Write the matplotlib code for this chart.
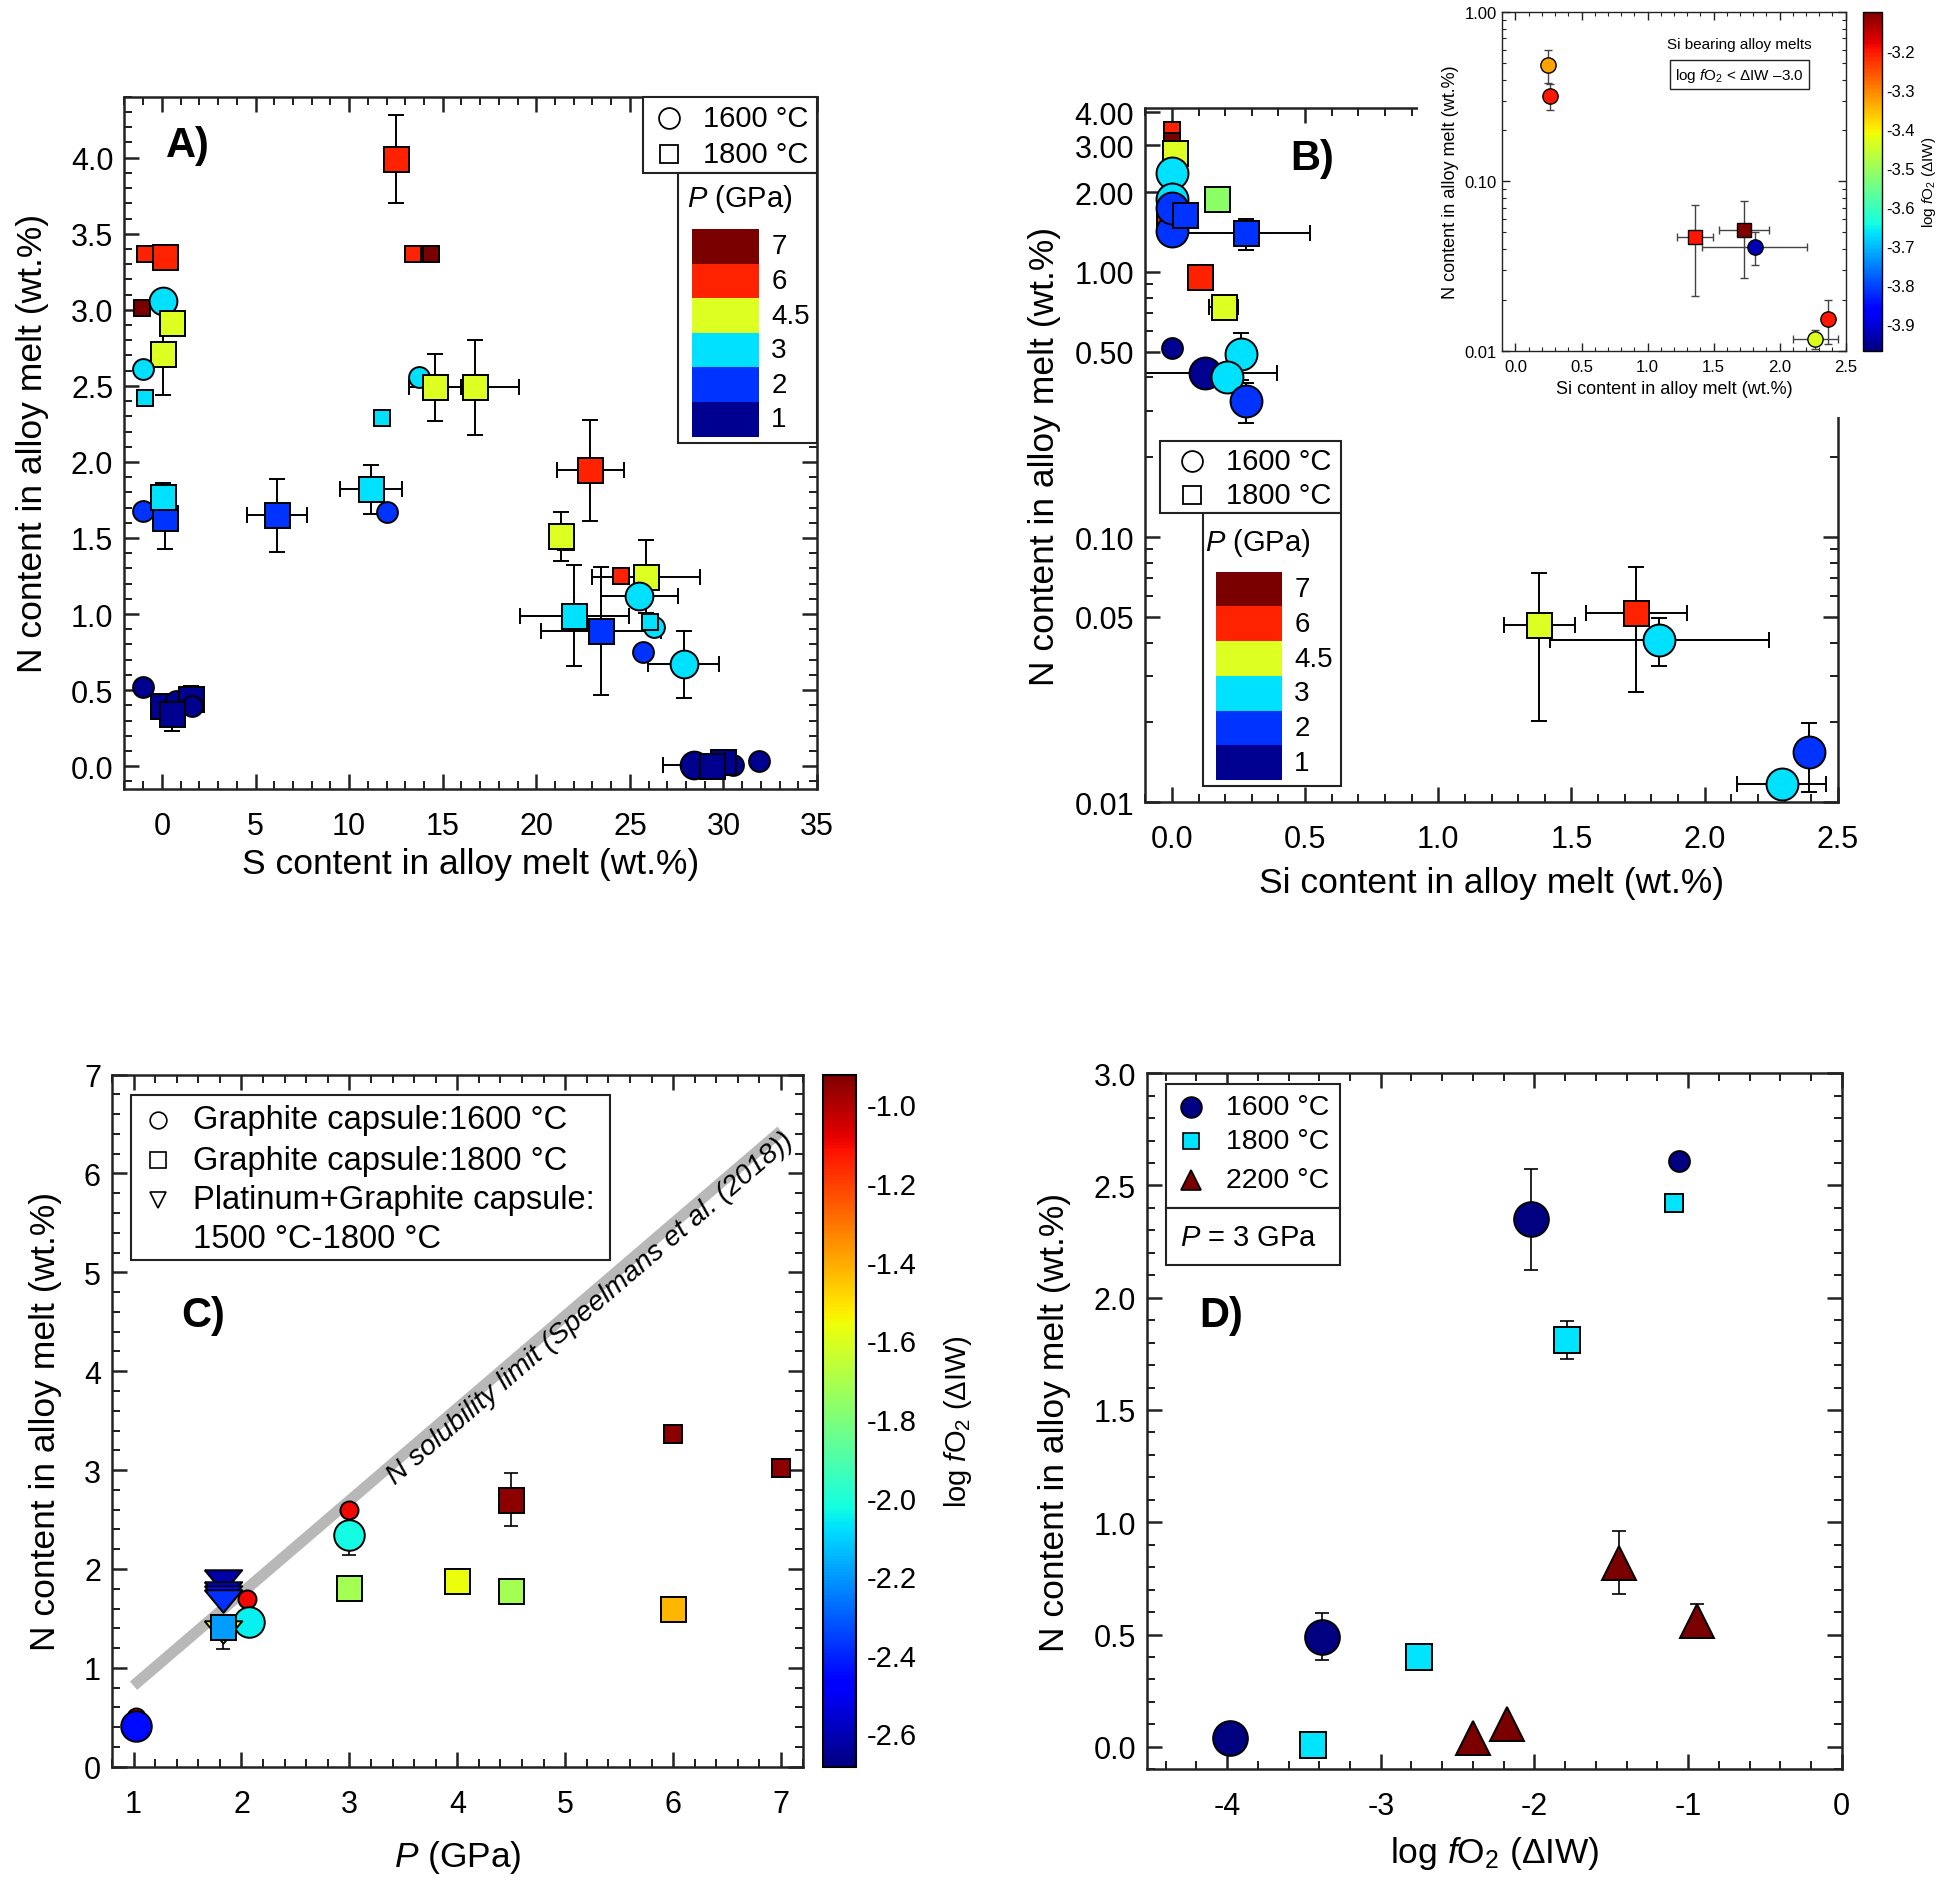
import matplotlib
matplotlib.use('Agg')
import matplotlib.pyplot as plt
import numpy as np
from matplotlib.patches import Rectangle
from matplotlib.ticker import MultipleLocator, FixedLocator, NullFormatter, LogLocator, FormatStrFormatter
from matplotlib.colors import Normalize
from matplotlib.cm import ScalarMappable

plt.rcParams['font.family'] = ['Liberation Sans', 'DejaVu Sans']
plt.rcParams['mathtext.fontset'] = 'custom'
plt.rcParams['mathtext.rm'] = 'Liberation Sans'
plt.rcParams['mathtext.it'] = 'Liberation Sans:italic'
plt.rcParams['mathtext.bf'] = 'Liberation Sans:bold'
plt.rcParams['axes.unicode_minus'] = False

# ---------------- data ----------------
# panel A : N vs S content (P in GPa, T in C, big = large symbol)
a_S = [-0.93, 0.14, -1.05, 0.08, 0.56, 0.08, -1.0, -0.93, 12.5, 13.4, 14.35, 13.76, 14.6, 16.7, 11.78,
       11.16, 12.0, 6.16, -1.0, 0.14, 0.08, 22.88, 21.6, 21.33, 24.5, 25.85, 25.5, 22.03, 23.45, 26.3,
       26.1, 25.7, 27.88, -1.01, 0.05, 0.75, 1.55, 1.6, 0.53, 31.9, 30.5, 30.0, 28.45, 29.4]
a_N = [3.37, 3.35, 3.01, 3.06, 2.91, 2.71, 2.61, 2.42, 3.99, 3.37, 3.37, 2.56, 2.49, 2.49, 2.29,
       1.82, 1.67, 1.65, 1.68, 1.63, 1.77, 1.945, 1.475, 1.51, 1.25, 1.245, 1.12, 0.99, 0.89, 0.915,
       0.95, 0.75, 0.67, 0.52, 0.395, 0.43, 0.44, 0.395, 0.34, 0.035, 0.005, 0.03, 0.01, 0.0]
a_Serr = [0, 0, 0, 0, 0, 0, 0, 0, 0, 0, 0, 0, 1.4, 2.4, 0,
          1.64, 0, 1.6, 0, 0, 0, 1.78, 0, 0, 0, 2.9, 2.06, 2.9, 3.2, 0,
          0, 0, 1.9, 0, 0, 0, 0, 0, 0, 0, 0, 0, 1.7, 0]
a_Nerr = [0, 0, 0, 0, 0, 0.27, 0, 0, 0.29, 0, 0, 0, 0.22, 0.31, 0,
          0.16, 0, 0.24, 0, 0.2, 0.09, 0.33, 0, 0.16, 0, 0.24, 0, 0.33, 0.42, 0,
          0, 0, 0.22, 0, 0, 0, 0.085, 0, 0.11, 0, 0, 0, 0, 0]
a_P = [6, 6, 7, 3, 4.5, 4.5, 3, 3, 6, 6, 7, 3, 4.5, 4.5, 3,
       3, 2, 2, 2, 2, 3, 6, 7, 4.5, 6, 4.5, 3, 3, 2, 3,
       3, 2, 3, 1, 1, 1, 1, 1, 1, 1, 1, 1, 1, 1]
a_T = [1800, 1800, 1800, 1600, 1800, 1800, 1600, 1800, 1800, 1800, 1800, 1600, 1800, 1800, 1800,
       1800, 1600, 1800, 1600, 1800, 1800, 1800, 1800, 1800, 1800, 1800, 1600, 1800, 1800, 1600,
       1800, 1600, 1600, 1600, 1800, 1600, 1800, 1600, 1800, 1600, 1600, 1800, 1600, 1800]
a_big = [0, 1, 0, 1, 1, 1, 0, 0, 1, 0, 0, 0, 1, 1, 0,
         1, 0, 1, 0, 1, 1, 1, 0, 1, 0, 1, 1, 1, 1, 0,
         0, 0, 1, 0, 1, 0, 1, 0, 1, 0, 0, 1, 1, 1]

# panel B : N vs Si content
b_Si = [0.0, 0.0, 0.01, 0.0, -0.01, 0.0, 0.0, 0.0, 0.05, 0.17, 0.28, 0.105, 0.195, 0.0, 0.26,
        0.126, 0.207, 0.28, 1.38, 1.744, 1.83, 2.39, 2.29]
b_N = [3.43, 3.12, 2.8, 2.36, 1.55, 1.43, 1.88, 1.75, 1.64, 1.88, 1.40, 0.96, 0.736, 0.517, 0.49,
       0.414, 0.40, 0.325, 0.0467, 0.0515, 0.041, 0.0154, 0.0117]
b_Sierr = [0, 0, 0, 0, 0, 0, 0, 0, 0, 0, 0.24, 0, 0.055, 0, 0,
           0.27, 0, 0, 0.133, 0.19, 0.41, 0, 0.167]
b_Nerr = [0, 0, 0, 0, 0, 0, 0, 0, 0, 0, 0.19, 0, 0, 0, 0.1,
          0, 0, 0.055, 0.0265, 0.0255, 0.0085, 0.0045, 0]
b_P = [6, 7, 4.5, 3, 6, 2, 3, 2, 2, 4, 2, 6, 4.5, 1, 3, 1, 3, 2, 4.5, 6, 3, 2, 3]
b_T = [1800, 1800, 1800, 1600, 1800, 1600, 1600, 1600, 1800, 1800, 1800, 1800, 1800, 1600, 1600,
       1600, 1600, 1600, 1800, 1800, 1600, 1600, 1600]
b_big = [0, 0, 1, 1, 1, 1, 1, 1, 1, 1, 1, 1, 1, 0, 1, 1, 1, 1, 1, 1, 1, 1, 1]

# inset of B : Si bearing alloy melts coloured by log fO2
i_Si = [0.245, 0.26, 1.36, 1.73, 1.81, 2.37, 2.27]
i_N = [0.49, 0.32, 0.047, 0.052, 0.041, 0.0155, 0.0118]
i_Sierr = [0, 0, 0.135, 0.19, 0.4, 0, 0.17]
i_Nerr = [0.11, 0.055, 0.026, 0.025, 0.009, 0.0045, 0.0015]
i_fO2 = [-3.33, -3.2, -3.2, -3.1, -3.93, -3.2, -3.43]
i_T = [1600, 1600, 1800, 1800, 1600, 1600, 1600]

# panel C : N vs P, coloured by log fO2
c_P = [1.02, 1.02, 2.05, 2.07, 3.0, 3.0, 3.0, 4.0, 4.5, 4.5, 6.0, 6.0, 7.0,
       1.83, 1.83, 1.83, 1.83, 1.83, 1.83]
c_N = [0.506, 0.41, 1.70, 1.46, 2.60, 2.34, 1.81, 1.88, 1.78, 2.70, 3.37, 1.60, 3.02,
       1.36, 1.88, 1.76, 1.72, 1.68, 1.41]
c_Nerr = [0, 0, 0, 0, 0, 0.2, 0, 0, 0, 0.27, 0, 0, 0,
          0.17, 0, 0, 0, 0, 0]
c_fO2 = [-1.1, -2.45, -1.1, -2.05, -1.1, -2.03, -1.72, -1.57, -1.72, -0.95, -0.95, -1.42, -0.95,
         -1.57, -2.62, -2.55, -2.45, -2.38, -2.19]
c_cap = ['G1600', 'G1600', 'G1600', 'G1600', 'G1600', 'G1600', 'G1800', 'G1800', 'G1800', 'G1800',
         'G1800', 'G1800', 'G1800', 'PtG', 'PtG', 'PtG', 'PtG', 'PtG', 'G1800']
c_big = [0, 1, 0, 1, 0, 1, 1, 1, 1, 1, 0, 1, 0, 1, 1, 1, 1, 1, 1]
c_lim_P = [1.0, 7.0]
c_lim_N = [0.82, 6.43]

# panel D : N vs log fO2 at 3 GPa
d_fO2 = [-3.98, -3.38, -2.02, -1.06, -3.44, -2.75, -1.79, -1.09, -2.40, -2.18, -1.45, -0.94]
d_N = [0.04, 0.49, 2.35, 2.61, 0.01, 0.40, 1.81, 2.42, 0.04, 0.10, 0.82, 0.56]
d_Nerr = [0, 0.105, 0.225, 0, 0, 0, 0.085, 0, 0, 0, 0.14, 0.075]
d_T = [1600, 1600, 1600, 1600, 1800, 1800, 1800, 1800, 2200, 2200, 2200, 2200]
d_big = [1, 1, 1, 0, 1, 1, 1, 0, 1, 1, 1, 1]

p_colors = {7: '#7a0000', 6: '#ff2200', 4.5: '#ddff22', 4: '#8cff66', 3: '#00e0ff', 2: '#0033ff', 1: '#000090'}
p_levels = [7, 6, 4.5, 3, 2, 1]
p_labels = ['7', '6', '4.5', '3', '2', '1']
t_marker = {1600: 'o', 1800: 's', 2200: '^'}
d_colors = {1600: '#000080', 1800: '#00e5ff', 2200: '#7a0000'}

INK = '#222222'
LBL = 25.5
tri_flat = [(-1, 0.6), (1, 0.6), (0, -0.6), (-1, 0.6)]


def style(ax, fs=22, lw=1.8, maj=11, mnr=6, pad=8, xpad=16):
    for s in ax.spines.values():
        s.set_linewidth(lw)
        s.set_color(INK)
    ax.tick_params(which='both', direction='in', top=True, right=True, width=lw, color=INK, labelsize=fs)
    ax.tick_params(which='major', length=maj, pad=pad)
    ax.tick_params(axis='x', which='major', pad=xpad)
    ax.tick_params(which='minor', length=mnr, width=lw * 0.8)


def draw_points(ax, xs, ys, xe, ye, cols, mks, sizes, elw=1.4, cap=6, mew=1.4, ecol='black'):
    for i in range(len(xs)):
        if xe[i] or ye[i]:
            ax.errorbar(xs[i], ys[i], xerr=xe[i] or None, yerr=ye[i] or None, fmt='none',
                        ecolor=ecol, elinewidth=elw, capsize=cap, capthick=elw, zorder=2)
    for i in range(len(xs)):
        ax.plot(xs[i], ys[i], ls='none', marker=mks[i], ms=sizes[i], mfc=cols[i], mec='black',
                mew=mew, zorder=3 + i * 0.001)


def p_key(ax, tbox, pbox, mk_x, txt_x, mk_y, title_xy, sw_x, sw_w, sw_y0, sw_h, lab_x, fs):
    ax.add_patch(Rectangle(tbox[:2], tbox[2], tbox[3], transform=ax.transAxes, fc='white', ec=INK,
                           lw=1.5, zorder=10, clip_on=False))
    ax.add_patch(Rectangle(pbox[:2], pbox[2], pbox[3], transform=ax.transAxes, fc='white', ec=INK,
                           lw=1.5, zorder=10, clip_on=False))
    for m, y, t, s in zip(['o', 's'], mk_y, ['1600 °C', '1800 °C'], [15, 13]):
        ax.plot([mk_x], [y], ls='none', marker=m, ms=s, mfc='white', mec='black', mew=1.3,
                transform=ax.transAxes, zorder=11, clip_on=False)
        ax.text(txt_x, y, t, transform=ax.transAxes, va='center', fontsize=fs, zorder=11)
    ax.text(title_xy[0], title_xy[1], '$P$ (GPa)', transform=ax.transAxes, ha='center', va='center',
            fontsize=fs, zorder=11)
    for k, (p, lab) in enumerate(zip(p_levels, p_labels)):
        y0 = sw_y0 + (len(p_levels) - 1 - k) * sw_h
        ax.add_patch(Rectangle((sw_x, y0), sw_w, sw_h, transform=ax.transAxes, fc=p_colors[p], ec='none',
                               zorder=11))
        ax.text(lab_x, y0 + sw_h / 2, lab, transform=ax.transAxes, va='center', fontsize=fs - 1, zorder=11)


fig = plt.figure(figsize=(19.51, 18.81), dpi=100)

# ---------------- A ----------------
axA = fig.add_axes([0.0638, 0.580, 0.355, 0.368])
sizeA = {('o', 1): 20, ('o', 0): 15, ('s', 1): 18, ('s', 0): 12}
mkA = [t_marker[t] for t in a_T]
draw_points(axA, a_S, a_N, a_Serr, a_Nerr, [p_colors[p] for p in a_P], mkA,
            [sizeA[(m, b)] for m, b in zip(mkA, a_big)])
axA.set_xlim(-2, 35)
axA.set_ylim(-0.15, 4.4)
axA.xaxis.set_major_locator(MultipleLocator(5))
axA.xaxis.set_minor_locator(MultipleLocator(1))
axA.yaxis.set_major_locator(MultipleLocator(0.5))
axA.yaxis.set_minor_locator(MultipleLocator(0.1))
axA.yaxis.set_major_formatter(FormatStrFormatter('%.1f'))
style(axA)
axA.set_xlabel('S content in alloy melt (wt.%)', fontsize=LBL, labelpad=4)
axA.set_ylabel('N content in alloy melt (wt.%)', fontsize=LBL, labelpad=16)
axA.text(0.06, 0.93, 'A)', transform=axA.transAxes, fontsize=30, fontweight='bold', va='center')
p_key(axA, (0.749, 0.890, 0.251, 0.110), (0.799, 0.50, 0.201, 0.39), 0.786, 0.835, (0.969, 0.917),
      (0.889, 0.854), 0.819, 0.097, 0.509, 0.05, 0.934, 21)

# ---------------- B ----------------
axB = fig.add_axes([0.587, 0.573, 0.355, 0.369], zorder=0)
sizeB = {('o', 1): 23, ('o', 0): 15, ('s', 1): 18, ('s', 0): 12}
mkB = [t_marker[t] for t in b_T]
draw_points(axB, b_Si, b_N, b_Sierr, b_Nerr, [p_colors[p] for p in b_P], mkB,
            [sizeB[(m, b)] for m, b in zip(mkB, b_big)])
axB.set_yscale('log')
axB.set_xlim(-0.1, 2.5)
axB.set_ylim(0.01, 4.15)
axB.xaxis.set_major_locator(MultipleLocator(0.5))
axB.xaxis.set_minor_locator(MultipleLocator(0.1))
axB.xaxis.set_major_formatter(FormatStrFormatter('%.1f'))
axB.yaxis.set_major_locator(FixedLocator([0.01, 0.05, 0.1, 0.5, 1, 2, 3, 4]))
axB.yaxis.set_major_formatter(FormatStrFormatter('%.2f'))
axB.yaxis.set_minor_locator(LogLocator(base=10, subs=np.arange(2, 10)))
axB.yaxis.set_minor_formatter(NullFormatter())
style(axB)
axB.set_xlabel('Si content in alloy melt (wt.%)', fontsize=LBL, labelpad=8)
axB.set_ylabel('N content in alloy melt (wt.%)', fontsize=LBL, labelpad=10)
axB.text(0.21, 0.928, 'B)', transform=axB.transAxes, fontsize=30, fontweight='bold', va='center')
p_key(axB, (0.0215, 0.4165, 0.2605, 0.1045), (0.084, 0.023, 0.198, 0.3935), 0.068, 0.117, (0.492, 0.442),
      (0.162, 0.375), 0.102, 0.095, 0.032, 0.05, 0.215, 21)

# white cover behind the inset
fig.add_artist(Rectangle((0.727, 0.778), 0.273, 0.222, transform=fig.transFigure, fc='white', ec='none',
                         zorder=2))

# ---------------- inset ----------------
norm_i = Normalize(vmin=-3.97, vmax=-3.1)
cmap = plt.get_cmap('jet')
axI = fig.add_axes([0.770, 0.813, 0.176, 0.180], zorder=3)
mkI = [t_marker[t] for t in i_T]
draw_points(axI, i_Si, i_N, i_Sierr, i_Nerr, [cmap(norm_i(v)) for v in i_fO2], mkI,
            [11 if m == 'o' else 9.5 for m in mkI], elw=1.0, cap=3, mew=1.0, ecol='#444444')
axI.set_yscale('log')
axI.set_xlim(-0.1, 2.5)
axI.set_ylim(0.01, 1.0)
axI.xaxis.set_major_locator(MultipleLocator(0.5))
axI.xaxis.set_minor_locator(MultipleLocator(0.1))
axI.xaxis.set_major_formatter(FormatStrFormatter('%.1f'))
axI.yaxis.set_major_locator(FixedLocator([0.01, 0.1, 1.0]))
axI.yaxis.set_major_formatter(FormatStrFormatter('%.2f'))
axI.yaxis.set_minor_locator(LogLocator(base=10, subs=np.arange(2, 10)))
axI.yaxis.set_minor_formatter(NullFormatter())
style(axI, fs=12, lw=1.0, maj=6, mnr=3, pad=4, xpad=6)
axI.set_xlabel('Si content in alloy melt (wt.%)', fontsize=13)
axI.set_ylabel('N content in alloy melt (wt.%)', fontsize=13)
axI.text(0.69, 0.905, 'Si bearing alloy melts', transform=axI.transAxes, ha='center', va='center', fontsize=11)
axI.text(0.69, 0.815, r'log $f$O$_2$ < ΔIW –3.0', transform=axI.transAxes, ha='center', va='center',
         fontsize=11, bbox=dict(boxstyle='square,pad=0.35', fc='white', ec=INK, lw=1.0))
caxI = fig.add_axes([0.955, 0.813, 0.0096, 0.180], zorder=3)
cbI = fig.colorbar(ScalarMappable(norm=norm_i, cmap=cmap), cax=caxI)
cbI.set_ticks(np.arange(-3.9, -3.15, 0.1))
cbI.ax.yaxis.set_major_formatter(FormatStrFormatter('%.1f'))
cbI.ax.tick_params(length=0, labelsize=12, pad=3)
cbI.outline.set_linewidth(1.0)
cbI.set_label(r'log $f$O$_2$ (ΔIW)', fontsize=11, labelpad=4)

# ---------------- C ----------------
norm_c = Normalize(vmin=-2.685, vmax=-0.924)
axC = fig.add_axes([0.0574, 0.0602, 0.354, 0.368])
axC.plot(c_lim_P, c_lim_N, color='#b8b8b8', lw=8, solid_capstyle='butt', zorder=1)
axC.text(3.42, 2.86, 'N solubility limit (Speelmans et al. (2018))', rotation=np.degrees(np.arctan(0.935)),
         transform_rotates_text=True, rotation_mode='anchor', ha='left', va='baseline', style='italic',
         fontsize=20.5, zorder=1)
mkC_map = {'G1600': 'o', 'G1800': 's', 'PtG': tri_flat}
sizeC = {('G1600', 1): 22, ('G1600', 0): 13, ('G1800', 1): 18, ('G1800', 0): 13, ('PtG', 1): 27}
draw_points(axC, c_P, c_N, [0] * len(c_P), c_Nerr, [cmap(norm_c(v)) for v in c_fO2],
            [mkC_map[c] for c in c_cap], [sizeC[(c, b)] for c, b in zip(c_cap, c_big)], elw=1.2, cap=5)
axC.set_xlim(0.8, 7.2)
axC.set_ylim(0, 7)
axC.xaxis.set_major_locator(MultipleLocator(1))
axC.xaxis.set_minor_locator(MultipleLocator(0.2))
axC.yaxis.set_major_locator(MultipleLocator(1))
axC.yaxis.set_minor_locator(MultipleLocator(0.2))
style(axC)
axC.set_xlabel('$P$ (GPa)', fontsize=LBL, labelpad=14)
axC.set_ylabel('N content in alloy melt (wt.%)', fontsize=LBL, labelpad=16)
axC.text(0.10, 0.653, 'C)', transform=axC.transAxes, fontsize=30, fontweight='bold', va='center')
axC.add_patch(Rectangle((0.027, 0.7325), 0.694, 0.2385, transform=axC.transAxes, fc='white', ec=INK, lw=1.5,
                        zorder=10))
for m, y, t, s in zip(['o', 's', 'v'], [0.935, 0.876, 0.819],
                      ['Graphite capsule:1600 °C', 'Graphite capsule:1800 °C', 'Platinum+Graphite capsule:'],
                      [12, 11, 12]):
    axC.plot([0.067], [y], ls='none', marker=m, ms=s, mfc='white', mec='black', mew=1.2,
             transform=axC.transAxes, zorder=11)
    axC.text(0.117, y, t, transform=axC.transAxes, va='center', fontsize=23.5, zorder=11)
axC.text(0.117, 0.763, '1500 °C-1800 °C', transform=axC.transAxes, va='center', fontsize=23.5, zorder=11)
caxC = fig.add_axes([0.422, 0.0602, 0.0166, 0.368])
cbC = fig.colorbar(ScalarMappable(norm=norm_c, cmap=cmap), cax=caxC)
cbC.set_ticks(np.arange(-2.6, -0.95, 0.2))
cbC.ax.yaxis.set_major_formatter(FormatStrFormatter('%.1f'))
cbC.ax.tick_params(length=0, labelsize=21, pad=8)
cbC.outline.set_linewidth(1.5)
cbC.set_label(r'log $f$O$_2$ (ΔIW)', fontsize=21, labelpad=18)

# ---------------- D ----------------
axD = fig.add_axes([0.588, 0.0589, 0.356, 0.370])
sizeD = {('o', 1): 25, ('o', 0): 15, ('s', 1): 19, ('s', 0): 13, ('^', 1): 25}
mkD = [t_marker[t] for t in d_T]
draw_points(axD, d_fO2, d_N, [0] * len(d_N), d_Nerr, [d_colors[t] for t in d_T], mkD,
            [sizeD[(m, b)] for m, b in zip(mkD, d_big)], elw=1.2, cap=5)
axD.set_xlim(-4.52, 0)
axD.set_ylim(-0.1, 3.0)
axD.xaxis.set_major_locator(MultipleLocator(1))
axD.xaxis.set_minor_locator(MultipleLocator(0.2))
axD.xaxis.set_major_formatter(FormatStrFormatter('%d'))
axD.yaxis.set_major_locator(MultipleLocator(0.5))
axD.yaxis.set_minor_locator(MultipleLocator(0.1))
axD.yaxis.set_major_formatter(FormatStrFormatter('%.1f'))
style(axD)
axD.set_xlabel(r'log $f$O$_2$ (ΔIW)', fontsize=LBL, labelpad=9)
axD.set_ylabel('N content in alloy melt (wt.%)', fontsize=LBL, labelpad=16)
axD.text(0.075, 0.653, 'D)', transform=axD.transAxes, fontsize=30, fontweight='bold', va='center')
axD.add_patch(Rectangle((0.027, 0.807), 0.251, 0.177, transform=axD.transAxes, fc='white', ec=INK, lw=1.5,
                        zorder=10))
axD.add_patch(Rectangle((0.027, 0.725), 0.251, 0.082, transform=axD.transAxes, fc='white', ec=INK, lw=1.5,
                        zorder=10))
for t, y, s in zip([1600, 1800, 2200], [0.952, 0.902, 0.846], [15, 12, 15]):
    axD.plot([0.063], [y], ls='none', marker=t_marker[t], ms=s, mfc=d_colors[t], mec='black', mew=1.2,
             transform=axD.transAxes, zorder=11)
    axD.text(0.113, y, '%d °C' % t, transform=axD.transAxes, va='center', fontsize=20.5, zorder=11)
axD.text(0.047, 0.764, '$P$ = 3 GPa', transform=axD.transAxes, va='center', fontsize=21, zorder=11)

plt.savefig('out.png', dpi=100)
plt.close()
